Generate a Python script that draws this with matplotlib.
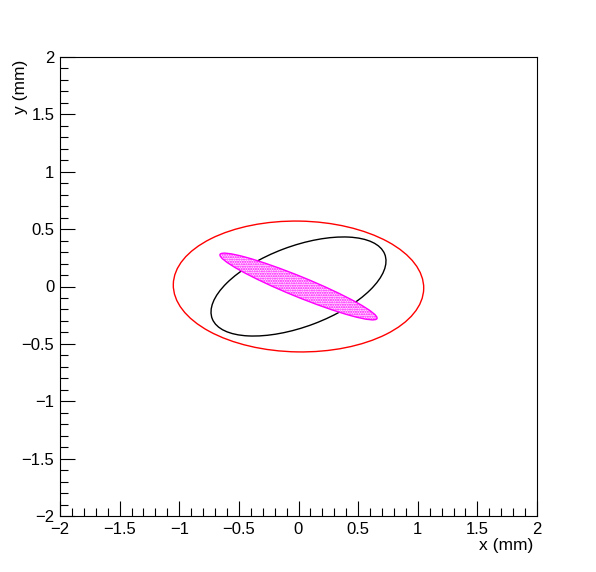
import numpy as np
import matplotlib
matplotlib.use("Agg")
import matplotlib.pyplot as plt
from matplotlib.patches import Ellipse
from matplotlib.ticker import MultipleLocator

plt.rcParams['font.family'] = ['Liberation Sans', 'DejaVu Sans']

# Ellipse parameters (center x, center y, semi-axis a, semi-axis b, angle deg)
ellipse_names = ["red", "black", "magenta"]
centers_x = [0.0, 0.0, 0.0]
centers_y = [0.0, 0.0, 0.0]
semi_a = [1.05, 0.776, 0.715]
semi_b = [0.57, 0.350, 0.088]
angles = [-1.0, 21.4, -23.0]

x_ticks = [-2, -1.5, -1, -0.5, 0, 0.5, 1, 1.5, 2]
y_ticks = [-2, -1.5, -1, -0.5, 0, 0.5, 1, 1.5, 2]

fig = plt.figure(figsize=(5.96, 5.72), dpi=100)
ax = fig.add_axes([60/596, 1-516/572, 477/596, 459/572])
ax.set_xlim(-2, 2)
ax.set_ylim(-2, 2)

# red ellipse
ax.add_patch(Ellipse((centers_x[0], centers_y[0]), 2*semi_a[0], 2*semi_b[0], angle=angles[0],
                     fill=False, edgecolor='#ff0000', lw=1.0))
# black ellipse
ax.add_patch(Ellipse((centers_x[1], centers_y[1]), 2*semi_a[1], 2*semi_b[1], angle=angles[1],
                     fill=False, edgecolor='black', lw=1.0))
# magenta hatched ellipse
plt.rcParams['hatch.linewidth'] = 1.0
ax.add_patch(Ellipse((centers_x[2], centers_y[2]), 2*semi_a[2], 2*semi_b[2], angle=angles[2],
                     facecolor='#ffe4ff', edgecolor='#ff00ff', hatch='.......', lw=0))
ax.add_patch(Ellipse((centers_x[2], centers_y[2]), 2*semi_a[2], 2*semi_b[2], angle=angles[2],
                     fill=False, edgecolor='#ff00ff', lw=1.0))

ax.set_xticks(x_ticks)
ax.set_yticks(y_ticks)
ax.set_xticklabels([f"{v:g}".replace('-', '\u2212') for v in x_ticks])
ax.set_yticklabels([f"{v:g}".replace('-', '\u2212') for v in y_ticks])
ax.xaxis.set_minor_locator(MultipleLocator(0.1))
ax.yaxis.set_minor_locator(MultipleLocator(0.1))
ax.tick_params(which='both', direction='in', top=False, right=False, labelsize=12, width=0.8)
ax.tick_params(which='major', length=11)
ax.tick_params(which='minor', length=6)
ax.tick_params(axis='y', pad=4)
ax.tick_params(axis='x', pad=4)
for s in ax.spines.values():
    s.set_linewidth(0.8)

ax.set_xlabel("x (mm)", fontsize=12.5, loc='right')
ax.set_ylabel("y (mm)", fontsize=12.5, loc='top')
ax.xaxis.set_label_coords((533-60)/477, -(538-516)/459)
ax.yaxis.set_label_coords((28-60)/477, 1-(60-57)/459)
ax.xaxis.label.set_va('top')

fig.savefig("out.png", dpi=100)
